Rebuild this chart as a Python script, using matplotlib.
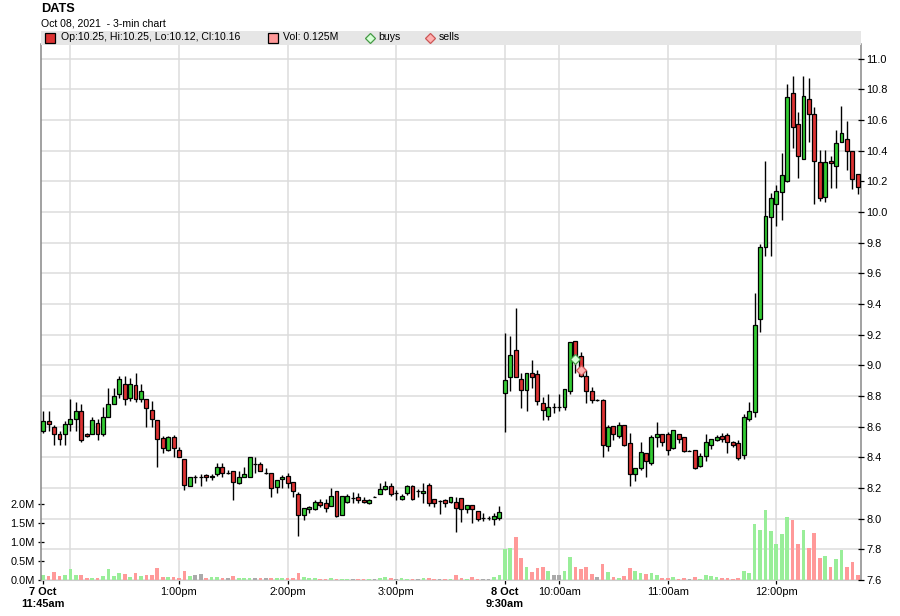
import matplotlib
matplotlib.use("Agg")
import matplotlib.pyplot as plt
import matplotlib.transforms as mtransforms
from matplotlib.patches import Rectangle
from matplotlib.lines import Line2D
import numpy as np

plt.rcParams['font.family'] = ['Liberation Sans', 'DejaVu Sans']

# ---------------- data (3-min candles, index 0 = 7 Oct 11:45am) ----------------
opens = [8.57, 8.635, 8.60, 8.55, 8.555, 8.62, 8.65, 8.70, 8.55, 8.55,
         8.625, 8.555, 8.66, 8.75, 8.81, 8.88, 8.79, 8.87, 8.78, 8.78,
         8.71, 8.645, 8.525, 8.45, 8.535, 8.45, 8.39, 8.21, 8.274, 8.275,
         8.285, 8.27, 8.29, 8.335, 8.295, 8.31, 8.23, 8.27, 8.27, 8.355,
         8.357, 8.295, 8.30, 8.205, 8.257, 8.28, 8.237, 8.16, 8.025, 8.065,
         8.06, 8.11, 8.10, 8.083, 8.18, 8.025, 8.107, 8.135, 8.14, 8.122,
         8.10, 8.143, 8.16, 8.193, 8.213, 8.165, 8.13, 8.165, 8.213, 8.18,
         8.17, 8.22, 8.126, 8.115, 8.122, 8.109, 8.109, 8.133, 8.061, 8.089,
         8.05, 8.002, 8.007, 7.996, 8.004,
         8.817, 8.922, 9.098, 8.909, 8.84, 8.948, 8.941, 8.752, 8.67, 8.73,
         8.73, 8.73, 8.83, 9.157, 9.059, 8.93, 8.83, 8.772, 8.772, 8.474,
         8.602, 8.539, 8.609, 8.491, 8.291, 8.328, 8.43, 8.365, 8.535, 8.55,
         8.55, 8.459, 8.554, 8.53, 8.443, 8.446, 8.346, 8.409, 8.48, 8.513,
         8.54, 8.546, 8.498, 8.491, 8.415, 8.65, 8.698, 9.30, 9.77, 9.97,
         10.052, 10.128, 10.204, 10.774, 10.572, 10.348, 10.735, 10.637, 10.324, 10.096,
         10.33, 10.30, 10.459, 10.474, 10.40, 10.25]
highs = [8.70, 8.70, 8.61, 8.57, 8.64, 8.78, 8.76, 8.75, 8.56, 8.66,
         8.65, 8.73, 8.85, 8.85, 8.93, 8.93, 8.92, 8.95, 8.88, 8.78,
         8.77, 8.645, 8.54, 8.54, 8.545, 8.47, 8.39, 8.27, 8.285, 8.29,
         8.29, 8.29, 8.36, 8.36, 8.32, 8.31, 8.31, 8.34, 8.40, 8.40,
         8.37, 8.33, 8.30, 8.25, 8.285, 8.295, 8.237, 8.175, 8.07, 8.085,
         8.12, 8.126, 8.126, 8.20, 8.18, 8.148, 8.161, 8.175, 8.17, 8.139,
         8.13, 8.148, 8.235, 8.248, 8.235, 8.185, 8.161, 8.22, 8.22, 8.196,
         8.235, 8.235, 8.126, 8.12, 8.126, 8.143, 8.139, 8.133, 8.087, 8.089,
         8.05, 8.04, 8.017, 8.04, 8.082,
         9.213, 9.19, 9.372, 8.948, 8.948, 9.035, 8.97, 8.791, 8.813, 8.752,
         8.813, 8.848, 9.15, 9.157, 9.09, 8.97, 8.861, 8.778, 8.778, 8.61,
         8.602, 8.63, 8.609, 8.557, 8.328, 8.498, 8.43, 8.543, 8.63, 8.55,
         8.567, 8.576, 8.554, 8.53, 8.446, 8.446, 8.43, 8.55, 8.517, 8.546,
         8.557, 8.557, 8.509, 8.515, 8.68, 8.76, 9.474, 9.79, 10.33, 10.126,
         10.176, 10.383, 10.835, 10.889, 10.654, 10.889, 10.872, 10.683, 10.404, 10.404,
         10.363, 10.535, 10.691, 10.593, 10.40, 10.25]
lows = [8.56, 8.57, 8.48, 8.48, 8.48, 8.57, 8.57, 8.50, 8.53, 8.55,
        8.51, 8.54, 8.66, 8.745, 8.79, 8.74, 8.77, 8.76, 8.76, 8.60,
        8.60, 8.34, 8.43, 8.44, 8.40, 8.40, 8.19, 8.21, 8.23, 8.21,
        8.245, 8.25, 8.28, 8.275, 8.29, 8.12, 8.225, 8.27, 8.27, 8.30,
        8.31, 8.29, 8.14, 8.17, 8.20, 8.20, 8.14, 7.89, 7.99, 8.04,
        8.055, 8.074, 8.045, 8.083, 8.013, 8.025, 8.10, 8.105, 8.10, 8.10,
        8.094, 8.139, 8.16, 8.187, 8.148, 8.12, 8.122, 8.155, 8.122, 8.143,
        8.10, 8.083, 8.074, 8.03, 8.074, 8.10, 7.915, 7.98, 8.039, 7.974,
        7.987, 7.987, 7.991, 7.957, 7.991,
        8.567, 8.83, 8.922, 8.72, 8.704, 8.85, 8.741, 8.643, 8.643, 8.687,
        8.704, 8.709, 8.813, 8.948, 8.926, 8.757, 8.752, 8.765, 8.404, 8.44,
        8.513, 8.528, 8.474, 8.213, 8.248, 8.317, 8.274, 8.35, 8.47, 8.474,
        8.417, 8.452, 8.491, 8.435, 8.439, 8.322, 8.339, 8.378, 8.452, 8.509,
        8.50, 8.43, 8.47, 8.38, 8.39, 8.64, 8.66, 9.22, 9.71, 9.713,
        9.909, 9.948, 10.198, 10.415, 10.22, 10.348, 10.459, 10.05, 10.075, 10.067,
        10.159, 10.154, 10.459, 10.274, 10.15, 10.12]
closes = [8.64, 8.62, 8.55, 8.52, 8.62, 8.65, 8.70, 8.51, 8.54, 8.645,
          8.555, 8.66, 8.75, 8.80, 8.91, 8.78, 8.88, 8.78, 8.835, 8.725,
          8.65, 8.52, 8.46, 8.535, 8.46, 8.40, 8.22, 8.27, 8.274, 8.275,
          8.27, 8.28, 8.34, 8.295, 8.295, 8.24, 8.27, 8.29, 8.40, 8.355,
          8.31, 8.295, 8.20, 8.25, 8.275, 8.23, 8.18, 8.025, 8.07, 8.075,
          8.11, 8.087, 8.07, 8.148, 8.02, 8.148, 8.148, 8.135, 8.12, 8.107,
          8.122, 8.143, 8.193, 8.213, 8.16, 8.165, 8.148, 8.213, 8.126, 8.18,
          8.183, 8.104, 8.10, 8.115, 8.104, 8.139, 8.067, 8.061, 8.087, 8.061,
          7.996, 8.002, 8.007, 8.017, 8.043,
          8.904, 9.065, 8.922, 8.84, 8.948, 8.922, 8.767, 8.709, 8.726, 8.73,
          8.73, 8.848, 9.15, 9.03, 8.93, 8.83, 8.772, 8.772, 8.478, 8.598,
          8.55, 8.613, 8.478, 8.291, 8.328, 8.437, 8.378, 8.53, 8.554, 8.50,
          8.448, 8.576, 8.517, 8.439, 8.443, 8.328, 8.409, 8.502, 8.517, 8.533,
          8.517, 8.498, 8.478, 8.393, 8.663, 8.70, 9.265, 9.77, 9.974, 10.09,
          10.139, 10.241, 10.752, 10.552, 10.367, 10.757, 10.637, 10.33, 10.089, 10.324,
          10.317, 10.448, 10.513, 10.40, 10.213, 10.16]
volumes_m = [0.13, 0.11, 0.21, 0.11, 0.13, 0.29, 0.13, 0.13, 0.04, 0.05,
             0.05, 0.11, 0.29, 0.11, 0.19, 0.16, 0.08, 0.19, 0.11, 0.13,
             0.13, 0.32, 0.08, 0.08, 0.08, 0.05, 0.24, 0.11, 0.13, 0.16,
             0.05, 0.08, 0.08, 0.05, 0.04, 0.11, 0.05, 0.04, 0.05, 0.05,
             0.04, 0.04, 0.05, 0.04, 0.04, 0.04, 0.04, 0.19, 0.08, 0.04,
             0.04, 0.035, 0.035, 0.05, 0.035, 0.035, 0.035, 0.035, 0.035, 0.035,
             0.035, 0.035, 0.05, 0.08, 0.05, 0.035, 0.05, 0.035, 0.035, 0.035,
             0.05, 0.05, 0.035, 0.035, 0.035, 0.035, 0.13, 0.05, 0.035, 0.08,
             0.035, 0.035, 0.035, 0.08, 0.13,
             0.82, 0.85, 1.14, 0.57, 0.34,
             0.21, 0.32, 0.34, 0.24, 0.13, 0.13, 0.24, 0.61, 0.34, 0.28,
             0.35, 0.16, 0.09, 0.42, 0.22, 0.09, 0.05, 0.11, 0.32, 0.24,
             0.19, 0.16, 0.19, 0.13, 0.05, 0.05, 0.08, 0.03, 0.05, 0.03,
             0.08, 0.03, 0.13, 0.11, 0.08, 0.05, 0.05, 0.03, 0.05, 0.24,
             0.19, 1.48, 1.32, 1.85, 1.30, 0.95, 1.22, 1.67, 1.59, 0.95,
             1.32, 0.85, 1.24, 0.58, 0.63, 0.34, 0.56, 0.79, 0.34, 0.48,
             0.13]
tick_idx = [0, 25, 45, 65, 85, 95, 115, 135]
tick_labels = ["7 Oct\n11:45am", "1:00pm", "2:00pm", "3:00pm",
               "8 Oct\n9:30am", "10:00am", "11:00am", "12:00pm"]
grid_idx = [5, 25, 45, 65, 85, 95, 115, 135]
price_ticks = [7.6, 7.8, 8.0, 8.2, 8.4, 8.6, 8.8, 9.0, 9.2, 9.4, 9.6, 9.8,
               10.0, 10.2, 10.4, 10.6, 10.8, 11.0]
vol_ticks = [0.0, 0.5, 1.0, 1.5, 2.0]
buy_idx, buy_px = [98], [9.04]
sell_idx, sell_px = [99], [8.967]
last_bar = dict(op=10.25, hi=10.25, lo=10.12, cl=10.16, vol=0.125)

# ---------------- styling ----------------
UP, DOWN = '#33cc33', '#dd3333'
VUP, VDOWN, VFLAT = '#99ee99', '#ff9999', '#aaaaaa'
GRID = '#dcdcdc'
FS = 7.6
TFS = 7.9

W, H = 900, 616
fig = plt.figure(figsize=(W / 100, H / 100), dpi=100)
fig.patch.set_facecolor('white')

def fx(px):
    return px / W

def fy(py):
    return 1 - py / H

x0, x1, ytop, ybot = 40.5, 860.5, 44, 580
# volume axes (bottom layer, left ticks)
axv = fig.add_axes([fx(x0), fy(ybot), fx(x1) - fx(x0), fy(ytop) - fy(ybot)])
# price axes (top layer, right ticks)
ax = axv.twinx()

n = len(closes)
idx = np.arange(n)
o = np.array(opens); c = np.array(closes)
h = np.array(highs); l = np.array(lows)

axv.set_xlim(-0.5, n - 0.5)
ax.set_xlim(-0.5, n - 0.5)
ax.set_ylim(7.6, 7.6 + (ybot - ytop) / 153.33)
axv.set_ylim(0, (ybot - ytop) / 37.85)

# grid (drawn on the bottom layer so bars sit above it)
blend = mtransforms.blended_transform_factory(axv.transAxes, ax.transData)
for p in price_ticks:
    axv.plot([0, 1], [p, p], transform=blend, color=GRID, lw=1.1, zorder=0)
for g in grid_idx:
    axv.axvline(g, color=GRID, lw=1.1, zorder=0)

# volume bars
vol_col = np.where(c > o, VUP, np.where(c < o, VDOWN, VFLAT))
axv.bar(idx, volumes_m, width=0.68, color=vol_col, zorder=2)

# candles
body_col = np.where(c > o, UP, np.where(c < o, DOWN, 'black'))
ax.vlines(idx, l, h, color='black', lw=1.0, zorder=3)
ax.bar(idx, c - o, bottom=o, width=0.72, color=body_col, edgecolor='black',
       linewidth=0.9, zorder=4)

# buys / sells
ax.plot(buy_idx, buy_px, 'D', ms=4.8, mfc='#d6ffd6', mec='#449944', mew=0.9, zorder=6)
ax.plot(sell_idx, sell_px, 'D', ms=4.8, mfc='#ffb0b0', mec='#cc5555', mew=0.9, zorder=6)

# price ticks on the right
ax.yaxis.tick_right()
ax.set_yticks(price_ticks)
ax.set_yticklabels([f"{t:.1f}" for t in price_ticks])
ax.tick_params(axis='y', direction='inout', length=4, width=0.9, colors='black',
               labelsize=TFS, pad=2)

# volume ticks on the left
axv.yaxis.tick_left()
axv.set_yticks(vol_ticks)
axv.set_yticklabels([f"{v:.1f}M" for v in vol_ticks])
axv.tick_params(axis='y', direction='inout', length=4, width=0.9, labelsize=TFS, pad=2)

# x ticks
axv.set_xticks(tick_idx)
axv.set_xticklabels(tick_labels)
axv.tick_params(axis='x', direction='out', length=3, width=0.9, labelsize=TFS, pad=2)
for lab in axv.get_xticklabels():
    if '\n' in lab.get_text():
        lab.set_fontweight('bold')
ax.tick_params(axis='x', bottom=False, labelbottom=False, top=False, labeltop=False)

for a in (ax, axv):
    for s in a.spines.values():
        s.set_visible(False)
for s in ['left', 'right']:
    axv.spines[s].set_visible(True)
    axv.spines[s].set_color('#888888')
    axv.spines[s].set_linewidth(1.1)
axv.spines['bottom'].set_visible(True)
axv.spines['bottom'].set_color('#cccccc')
axv.spines['left'].set_zorder(10)

# titles
fig.text(fx(41), fy(8.5), "DATS", fontsize=9.2, fontweight='bold', va='center', ha='left')
fig.text(fx(41), fy(23), "Oct 08, 2021  - 3-min chart", fontsize=FS, va='center', ha='left')

# legend band
fig.patches.append(Rectangle((fx(40.5), fy(44.5)), fx(860.5) - fx(40.5), (44.5 - 30.5) / H,
                             transform=fig.transFigure, facecolor='#e6e6e6',
                             edgecolor='none', zorder=5))
ly = fy(37.5)
fig.add_artist(Line2D([fx(50)], [ly], marker='s', ms=6.6, mfc=DOWN, mec='black',
                      mew=0.9, ls='none', transform=fig.transFigure, zorder=6))
fig.text(fx(61), ly, f"Op:{last_bar['op']:.2f}, Hi:{last_bar['hi']:.2f}, "
         f"Lo:{last_bar['lo']:.2f}, Cl:{last_bar['cl']:.2f}",
         fontsize=FS, va='center', ha='left', zorder=6)
fig.add_artist(Line2D([fx(273)], [ly], marker='s', ms=6.6, mfc=VDOWN, mec='black',
                      mew=0.9, ls='none', transform=fig.transFigure, zorder=6))
fig.text(fx(283), ly, f"Vol: {last_bar['vol']:.3f}M", fontsize=FS, va='center',
         ha='left', zorder=6)
fig.add_artist(Line2D([fx(369.5)], [ly], marker='D', ms=5.2, mfc='#d6ffd6', mec='#449944',
                      mew=0.9, ls='none', transform=fig.transFigure, zorder=6))
fig.text(fx(378), ly, "buys", fontsize=FS, va='center', ha='left', zorder=6)
fig.add_artist(Line2D([fx(429.5)], [ly], marker='D', ms=5.2, mfc='#ffb0b0', mec='#cc5555',
                      mew=0.9, ls='none', transform=fig.transFigure, zorder=6))
fig.text(fx(439), ly, "sells", fontsize=FS, va='center', ha='left', zorder=6)

fig.savefig("out.png", dpi=100)
